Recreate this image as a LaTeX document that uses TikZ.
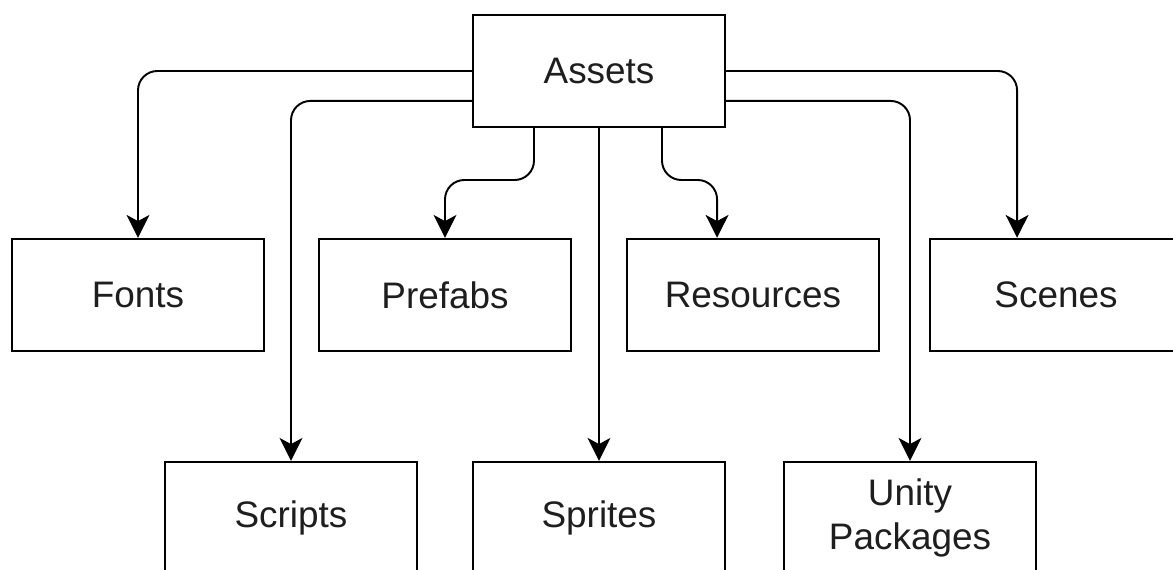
\documentclass[tikz,border=0pt]{standalone}
\usepackage{fontspec}
\setmainfont{Liberation Sans}
\usetikzlibrary{arrows.meta, positioning, calc}
\definecolor{linecol}{HTML}{000000}
\definecolor{textcol}{HTML}{1E1E1E}

\begin{document}
\begin{tikzpicture}[x=0.02cm, y=-0.02cm,
            box/.style={rectangle, draw=linecol, fill=white, line width=1.1pt, minimum width=5.04cm, minimum height=2.25cm, inner sep=0pt, align=center, text=textcol, font=\fontsize{21}{25}\selectfont},
            link/.style={draw=linecol, line width=1.1pt, rounded corners=11pt, -{Stealth[length=13pt, width=13pt, inset=3.5pt]}}]
            \useasboundingbox (0,0) rectangle (1173,570);
            \node[box, minimum height=2.24cm] (assets) at (599,71) {Assets};
            \node[box] (fonts) at (138,295) {Fonts};
            \node[box] (prefabs) at (445,295) {Prefabs};
            \node[box] (resources) at (753,295) {Resources};
            \node[box] (scenes) at (1056,295) {Scenes};
            \node[box] (scripts) at (291,518) {Scripts};
            \node[box] (sprites) at (599,518) {Sprites};
            \node[box] (unity) at (910,518) {Unity\\Packages};
            \coordinate (pfjog) at (534,180);
            \coordinate (rsjog) at (662,180);
            \coordinate (rstop) at ($(resources.north west)+(91,0)$);
            \coordinate (sctop) at ($(scenes.north west)+(88,0)$);
            \draw[link] (assets.west) -| (fonts.north);
            \draw[link] ($(assets.south west)+(0,-27)$) -| (scripts.north);
            \draw[link] (assets.east) -| (sctop);
            \draw[link] ($(assets.south east)+(0,-27)$) -| (unity.north);
            \draw[link] (assets.south) -- (sprites.north);
            \draw[link] (assets.south -| pfjog) -- (pfjog) -| (prefabs.north);
            \draw[link] (assets.south -| rsjog) -- (rsjog) -| (rstop);
        \end{tikzpicture}
\end{document}
